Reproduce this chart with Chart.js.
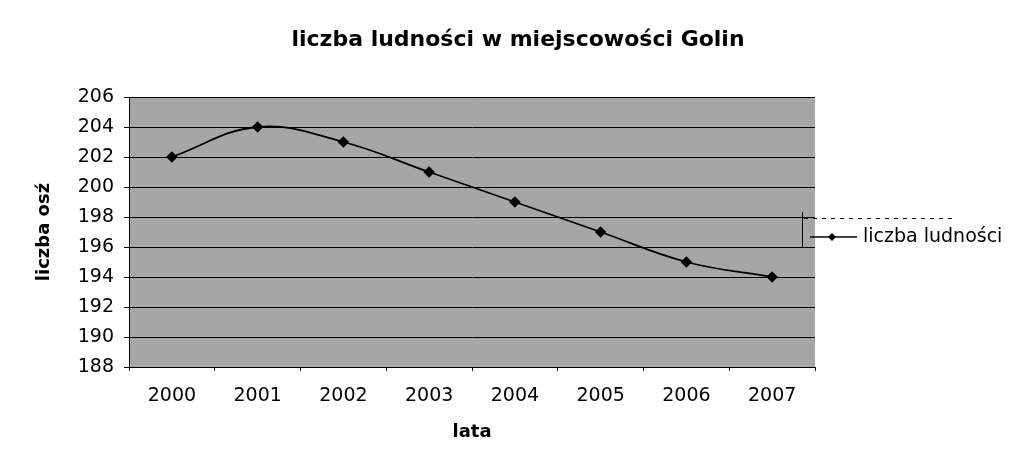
<!DOCTYPE html>
<html>
<head>
<meta charset="utf-8">
<script src="https://cdn.jsdelivr.net/npm/chart.js@4"></script>
<style>
  body { margin: 0; background: #fff; }
  #wrap { width: 1010px; height: 461px; }
</style>
</head>
<body>
<div id="wrap"><canvas id="chart" width="1010" height="461"></canvas></div>
<script>
// data
var years = ['2000', '2001', '2002', '2003', '2004', '2005', '2006', '2007'];
var population = [202, 204, 203, 201, 199, 197, 195, 194];
var yMin = 188, yMax = 206, yStep = 2;
var chartTitle = 'liczba ludności w miejscowości Golin';

var FONT = '"DejaVu Sans", Verdana, sans-serif';

// gray plot area (the excel one is dithered) + title, which sits off-centre
var plotBg = {
  id: 'plotBg',
  beforeDraw: function(chart) {
    var a = chart.chartArea, c = chart.ctx;
    c.save();
    c.fillStyle = '#a6a6a6';
    c.fillRect(a.left, a.top, a.right - a.left, a.bottom - a.top);
    c.fillStyle = '#000';
    c.font = 'bold 22px ' + FONT;
    c.textAlign = 'center';
    c.textBaseline = 'middle';
    c.fillText(chartTitle, 518, 40);
    c.restore();
  }
};

// legend on the right: line + marker + text
var sideLegend = {
  id: 'sideLegend',
  afterDraw: function(chart) {
    var c = chart.ctx;
    var y = 237;
    c.save();
    c.strokeStyle = '#000';
    c.lineWidth = 1;
    c.setLineDash([4, 5]);
    c.beginPath();
    c.moveTo(804, 218.5); c.lineTo(952, 218.5);
    c.stroke();
    c.setLineDash([]);
    c.beginPath();
    c.moveTo(802.5, 212); c.lineTo(802.5, 247);
    c.stroke();
    c.lineWidth = 1.5;
    c.beginPath();
    c.moveTo(810, y); c.lineTo(857, y);
    c.stroke();
    c.beginPath();
    c.moveTo(832, y - 4); c.lineTo(836, y); c.lineTo(832, y + 4); c.lineTo(828, y);
    c.closePath();
    c.fillStyle = '#000';
    c.fill();
    c.font = '19px ' + FONT;
    c.textBaseline = 'middle';
    c.fillText(chart.data.datasets[0].label, 863, y);
    c.restore();
  }
};

var ctx = document.getElementById('chart').getContext('2d');
var popChart = new Chart(ctx, {
  type: 'line',
  data: {
    labels: years,
    datasets: [{
      label: 'liczba ludności',
      data: population,
      borderColor: '#000',
      backgroundColor: '#000',
      borderWidth: 1.8,
      tension: 0.4,
      pointStyle: 'rectRot',
      pointRadius: 4.5,
      pointHoverRadius: 4.5
    }]
  },
  plugins: [plotBg, sideLegend],
  options: {
    responsive: false,
    animation: false,
    layout: { padding: { left: 30, right: 195, top: 97, bottom: 0 } },
    plugins: {
      legend: { display: false },
      tooltip: { enabled: false },
      title: { display: false }
    },
    scales: {
      x: {
        offset: true,
        grid: { display: true, offset: true, drawOnChartArea: false, drawTicks: true, tickLength: 4, color: '#000' },
        border: { display: true, color: '#000', width: 1 },
        ticks: {
          color: '#000',
          padding: 14,
          font: { family: FONT, size: 19 }
        },
        title: {
          display: true,
          text: 'lata',
          color: '#000',
          font: { family: FONT, size: 18, weight: 'bold' },
          padding: { top: 10, bottom: 18 }
        },
        afterFit: function(scale) { scale.height = 94; }
      },
      y: {
        min: yMin,
        max: yMax,
        grid: { color: '#000', lineWidth: 1, tickLength: 5, drawTicks: true },
        border: { display: true, color: '#000', width: 1 },
        ticks: {
          stepSize: yStep,
          color: '#000',
          padding: 10,
          font: { family: FONT, size: 19 }
        },
        title: {
          display: true,
          text: 'liczba osź',
          color: '#000',
          font: { family: FONT, size: 18, weight: 'bold' },
          padding: { top: 4, bottom: 0 }
        },
        afterFit: function(scale) { scale.width = 99; }
      }
    }
  }
});
</script>
</body>
</html>
